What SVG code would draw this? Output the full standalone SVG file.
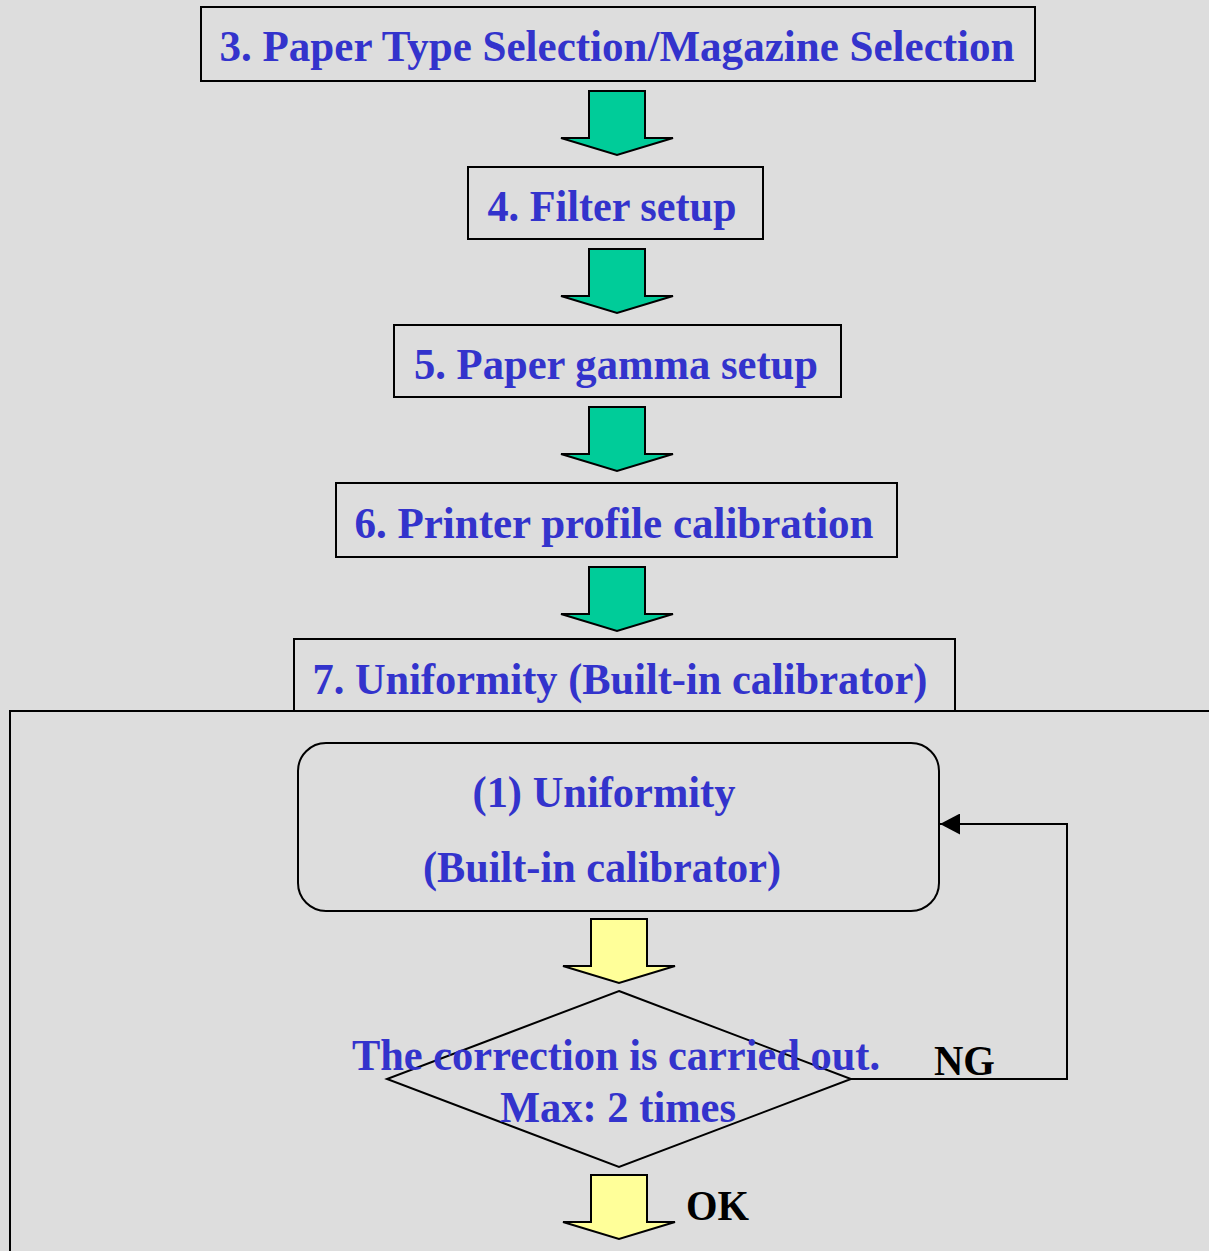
<svg xmlns="http://www.w3.org/2000/svg" width="1209" height="1251" viewBox="0 0 1209 1251">
  <style>
    .box { fill: #DDDDDD; stroke: #000; stroke-width: 2; }
    .lbl { font-family: "Liberation Serif", "Times New Roman", serif; font-weight: bold; font-size: 44px; fill: #3333CC; text-anchor: middle; }
    .tag { font-family: "Liberation Serif", "Times New Roman", serif; font-weight: bold; font-size: 42px; fill: #000; }
    .green { fill: #00CC99; stroke: #000; stroke-width: 2; stroke-linejoin: miter; }
    .yellow { fill: #FFFF99; stroke: #000; stroke-width: 2; stroke-linejoin: miter; }
    .line { fill: none; stroke: #000; stroke-width: 2; }
  </style>
  <defs>
    <!-- block arrow pointing down, origin at top-centre of the shaft -->
    <path id="blockArrow" d="M -28 0 H 28 V 47 H 56 L 0 64 L -56 47 H -28 Z"/>
    <marker id="head" markerWidth="20" markerHeight="21" refX="20" refY="10.5" orient="auto" markerUnits="userSpaceOnUse" viewBox="0 0 20 21">
      <path d="M0 0 L20 10.5 L0 21 Z" fill="#000"/>
    </marker>
  </defs>

  <rect x="0" y="0" width="1209" height="1251" fill="#DDDDDD"/>

  <!-- outer frame for step 7 -->
  <g id="frame7">
    <rect class="box" x="10" y="711" width="1220" height="600"/>
  </g>

  <g id="step3">
    <rect class="box" x="201" y="7" width="834" height="74"/>
    <text class="lbl" x="617" y="61" textLength="795" lengthAdjust="spacingAndGlyphs">3. Paper Type Selection/Magazine Selection</text>
  </g>
  <g id="step4">
    <rect class="box" x="468" y="167" width="295" height="72"/>
    <text class="lbl" x="612" y="221" textLength="249" lengthAdjust="spacingAndGlyphs">4. Filter setup</text>
  </g>
  <g id="step5">
    <rect class="box" x="394" y="325" width="447" height="72"/>
    <text class="lbl" x="616" y="379" textLength="404" lengthAdjust="spacingAndGlyphs">5. Paper gamma setup</text>
  </g>
  <g id="step6">
    <rect class="box" x="336" y="483" width="561" height="74"/>
    <text class="lbl" x="614" y="538" textLength="519" lengthAdjust="spacingAndGlyphs">6. Printer profile calibration</text>
  </g>
  <g id="step7">
    <rect class="box" x="294" y="639" width="661" height="72"/>
    <text class="lbl" x="620" y="694" textLength="615" lengthAdjust="spacingAndGlyphs">7. Uniformity (Built-in calibrator)</text>
  </g>

  <g id="uniformity">
    <rect class="box" x="298" y="743" width="641" height="168" rx="28" ry="28"/>
    <text class="lbl" x="604" y="807" textLength="263" lengthAdjust="spacingAndGlyphs">(1) Uniformity</text>
    <text class="lbl" x="602" y="882" textLength="358" lengthAdjust="spacingAndGlyphs">(Built-in calibrator)</text>
  </g>

  <g id="check">
    <polygon class="box" points="619,991 851,1079 619,1167 387,1079" style="fill:none"/>
    <text class="lbl" x="616" y="1070" textLength="528" lengthAdjust="spacingAndGlyphs">The correction is carried out.</text>
    <text class="lbl" x="618" y="1122" textLength="236" lengthAdjust="spacingAndGlyphs">Max: 2 times</text>
  </g>

  <g id="connectors">
    <use href="#blockArrow" class="green" x="617" y="91"/>
    <use href="#blockArrow" class="green" x="617" y="249"/>
    <use href="#blockArrow" class="green" x="617" y="407"/>
    <use href="#blockArrow" class="green" x="617" y="567"/>
    <use href="#blockArrow" class="yellow" x="619" y="919"/>
    <use href="#blockArrow" class="yellow" x="619" y="1175"/>
    <polyline class="line" points="851,1079 1067,1079 1067,824 940,824" marker-end="url(#head)"/>
    <text class="tag" x="934" y="1075" textLength="61" lengthAdjust="spacingAndGlyphs">NG</text>
    <text class="tag" x="686" y="1220" textLength="63" lengthAdjust="spacingAndGlyphs">OK</text>
  </g>
</svg>
